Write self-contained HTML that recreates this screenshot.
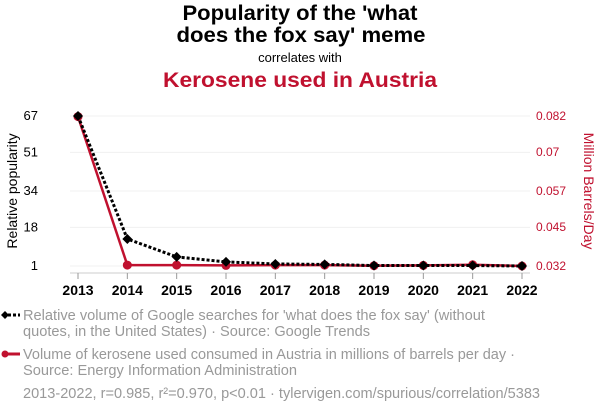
<!DOCTYPE html>
<html><head><meta charset="utf-8"><style>
body{margin:0;background:#fff;font-family:"Liberation Sans",sans-serif;}
svg{display:block}
</style></head><body>
<svg id="c" width="600" height="414" xmlns="http://www.w3.org/2000/svg">
<text x="300" y="20" text-anchor="middle" font-size="21" font-weight="bold" textLength="235" lengthAdjust="spacingAndGlyphs">Popularity of the 'what</text>
<text x="301" y="42" text-anchor="middle" font-size="21" font-weight="bold" textLength="249" lengthAdjust="spacingAndGlyphs">does the fox say' meme</text>
<text x="300" y="62" text-anchor="middle" font-size="13">correlates with</text>
<text x="300" y="87" text-anchor="middle" font-size="21" font-weight="bold" fill="#c0112f" textLength="274" lengthAdjust="spacingAndGlyphs">Kerosene used in Austria</text>
<g id="grid"></g><g id="axes"></g><g id="marks"></g>
<text transform="translate(17,191) rotate(-90)" text-anchor="middle" font-size="14">Relative popularity</text>
<text transform="translate(584,191) rotate(90)" text-anchor="middle" font-size="14" fill="#c0112f">Million Barrels/Day</text>
<g>
<line x1="3" y1="315" x2="20" y2="315" stroke="#000" stroke-width="3" stroke-dasharray="3,2"/>
<path d="M5,311 L9,315 5,319 1,315Z" fill="#000"/>
<text x="23" y="320" font-size="15" fill="#999" textLength="462" lengthAdjust="spacingAndGlyphs">Relative volume of Google searches for 'what does the fox say' (without</text>
<text x="23" y="336" font-size="15" fill="#999" textLength="347" lengthAdjust="spacingAndGlyphs">quotes, in the United States) · Source: Google Trends</text></g>
<g>
<line x1="3" y1="354" x2="20" y2="354" stroke="#c0112f" stroke-width="3"/>
<circle cx="5" cy="354" r="3.5" fill="#c0112f"/>
<text x="23" y="359" font-size="15" fill="#999" textLength="492" lengthAdjust="spacingAndGlyphs">Volume of kerosene used consumed in Austria in millions of barrels per day ·</text>
<text x="23" y="375" font-size="15" fill="#999" textLength="274" lengthAdjust="spacingAndGlyphs">Source: Energy Information Administration</text></g>
<text x="23" y="398" font-size="15" fill="#999" textLength="517" lengthAdjust="spacingAndGlyphs">2013-2022, r=0.985, r²=0.970, p&lt;0.01 · tylervigen.com/spurious/correlation/5383</text>
</svg>
<script>
const years=[2013,2014,2015,2016,2017,2018,2019,2020,2021,2022];
const memeVals=[67,12.9,5,2.8,1.9,1.7,1.2,1.2,1.2,1];
const keroVals=[0.0818,0.0323,0.0323,0.0322,0.0323,0.0323,0.0321,0.0322,0.0324,0.032];
const leftTicks=[1,18,34,51,67];
const rightTicks=[0.032,0.045,0.057,0.07,0.082];
const NS="http://www.w3.org/2000/svg";
const x=y=>78+(y-2013)*(522-78)/9;
const yl=v=>266-(v-1)*150/66;
const yr=v=>266-(v-0.032)*150/0.05;
function mk(t,a,p){const e=document.createElementNS(NS,t);for(const k in a)e.setAttribute(k,a[k]);document.getElementById(p).appendChild(e);return e;}
leftTicks.forEach(v=>{
 const g=mk('line',{x1:70,x2:530,y1:yl(v),y2:yl(v),stroke:'#f0f0f0','stroke-width':1},'grid');
 
 
 const t=mk('text',{x:38,y:yl(v)+4,'text-anchor':'end','font-size':13},'axes');t.textContent=v;
 
 
});
rightTicks.forEach(v=>{
 const t=mk('text',{x:536,y:yr(v)+4,'font-size':12,fill:'#c0112f'},'axes');t.textContent=v;
 
 
});
const ax=mk('line',{x1:70,x2:530,y1:273,y2:273,stroke:'#ccc'},'axes');


years.forEach(y=>{
 mk('line',{x1:x(y),x2:x(y),y1:273,y2:279,stroke:'#999'},'axes');
 const t=mk('text',{x:x(y),y:295,'text-anchor':'middle','font-size':14,'font-weight':'bold'},'axes');t.textContent=y;
 
 
});
const kp=mk('polyline',{points:years.map((y,i)=>x(y)+','+yr(keroVals[i])).join(' '),fill:'none',stroke:'#c0112f','stroke-width':2.5},'marks');


years.forEach((y,i)=>{const c=mk('circle',{cx:x(y),cy:yr(keroVals[i]),r:4.5,fill:'#c0112f'},'marks');
 
 });
const mp=mk('polyline',{points:years.map((y,i)=>x(y)+','+yl(memeVals[i])).join(' '),fill:'none',stroke:'#000','stroke-width':3,'stroke-dasharray':'3,2'},'marks');


years.forEach((y,i)=>{const cx=x(y),cy=yl(memeVals[i]);
 const d=mk('path',{d:`M${cx},${cy-5} L${cx+5},${cy} ${cx},${cy+5} ${cx-5},${cy}Z`,fill:'#000'},'marks');
 
 });
</script>
</body></html>
